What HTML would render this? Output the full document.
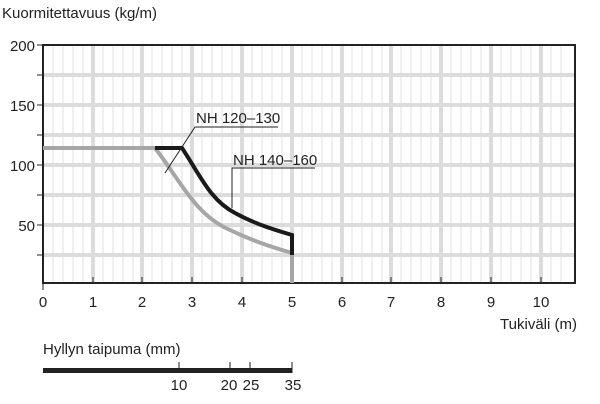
<!DOCTYPE html><html><head><style>body{margin:0;background:#fff}svg{display:block}text{font-family:"Liberation Sans",sans-serif;fill:#222}</style></head><body>
<svg width="600" height="404" viewBox="0 0 600 404">
<g stroke="#e2e2e2" stroke-width="1">
<path d="M53 45V283M63 45V283M73 45V283M83 45V283M103 45V283M113 45V283M123 45V283M133 45V283M152 45V283M162 45V283M172 45V283M182 45V283M202 45V283M212 45V283M222 45V283M232 45V283M252 45V283M262 45V283M272 45V283M282 45V283M302 45V283M312 45V283M322 45V283M332 45V283M352 45V283M362 45V283M372 45V283M382 45V283M401 45V283M411 45V283M421 45V283M431 45V283M451 45V283M461 45V283M471 45V283M481 45V283M501 45V283M511 45V283M521 45V283M531 45V283M551 45V283M561 45V283"/>
</g>
<g stroke="#dcdcdc" stroke-width="4">
<path d="M93 45V283M142 45V283M192 45V283M242 45V283M292 45V283M342 45V283M391 45V283M441 45V283M491 45V283M541 45V283"/>
<path d="M43 75H575M43 105H575M43 135H575M43 165H575M43 195H575M43 225H575M43 255H575"/>
</g>
<rect x="43" y="45" width="532" height="238" fill="none" stroke="#222" stroke-width="2"/>
<g stroke="#222" stroke-width="1">
<path d="M37 45H43M37 75H43M37 105H43M37 135H43M37 165H43M37 195H43M37 225H43M37 255H43"/>
<path d="M43 283V290M93 277V283M142 277V283M192 277V283M242 277V283M292 277V283M342 277V283M391 277V283M441 277V283M491 277V283M541 277V283"/>
</g>
<g font-size="15" text-anchor="end">
<text x="35" y="51">200</text><text x="35" y="111">150</text><text x="35" y="171">100</text><text x="35" y="231">50</text>
</g>
<g font-size="15" text-anchor="middle">
<text x="43" y="307">0</text><text x="93" y="307">1</text><text x="142" y="307">2</text><text x="192" y="307">3</text><text x="242" y="307">4</text><text x="292" y="307">5</text><text x="342" y="307">6</text><text x="391" y="307">7</text><text x="441" y="307">8</text><text x="491" y="307">9</text><text x="541" y="307">10</text>
</g>
<text x="2" y="18" font-size="15">Kuormitettavuus (kg/m)</text>
<text x="577" y="329" font-size="15" text-anchor="end">Tukiväli (m)</text>
<text x="43" y="354" font-size="15">Hyllyn taipuma (mm)</text>
<path d="M43 148H155C180 180 195 215 230 230C255 242 275 248 292 253V283" fill="none" stroke="#a6a6a6" stroke-width="4"/>
<path d="M155 148H182C200 175 210 200 235 213C255 224 275 230 292 235V255" fill="none" stroke="#1a1a1a" stroke-width="4"/>
<path d="M165 173L195 127H278M232 208V168H315" fill="none" stroke="#222" stroke-width="1"/>
<text x="196" y="123" font-size="15">NH 120–130</text>
<text x="233" y="165" font-size="15">NH 140–160</text>
<rect x="43" y="368" width="249" height="5" fill="#222"/>
<path d="M179 362V373M230 362V373M250 362V373M292 362V373" stroke="#222" stroke-width="1"/>
<g font-size="15" text-anchor="middle"><text x="179" y="390">10</text><text x="229" y="390">20</text><text x="251" y="390">25</text><text x="293" y="390">35</text></g>
</svg></body></html>
